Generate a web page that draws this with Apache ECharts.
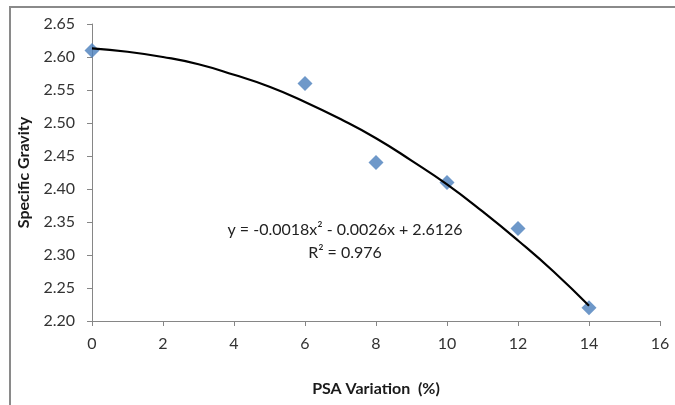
<!DOCTYPE html>
<html>
<head>
<meta charset="utf-8">
<script src="https://cdn.jsdelivr.net/npm/echarts@6/dist/echarts.min.js"></script>
<style>
  html, body { margin: 0; padding: 0; background: #fff; }
  #chart { width: 675px; height: 405px; }
</style>
</head>
<body>
<div id="chart"></div>
<script>
// measured points
const psaVariation = [0, 6, 8, 10, 12, 14]
const specificGravity = [2.61, 2.56, 2.44, 2.41, 2.34, 2.22]

// polynomial trendline
const trendX = [0, 1, 2, 3, 4, 5, 6, 7, 8, 9, 10, 11, 12, 13, 14]
const trendY = [2.613, 2.608, 2.600, 2.589, 2.573, 2.555, 2.532, 2.506, 2.477,
                2.443, 2.407, 2.366, 2.322, 2.275, 2.223]

const yTicks = { min: 2.2, max: 2.65, step: 0.05 }
const xTicks = { min: 0, max: 16, step: 2 }

const eqLine = 'y = -0.0018x² - 0.0026x + 2.6126'
const r2Line = 'R² = 0.976'

const chart = echarts.init(document.getElementById('chart'))
const font = 'Lato, "Open Sans", sans-serif'
const axisGray = '#868686'

chart.setOption({
  animation: false,
  textStyle: { fontFamily: font },
  grid: { left: 92, right: 15, top: 24, bottom: 84 },
  xAxis: {
    type: 'value',
    min: xTicks.min,
    max: xTicks.max,
    interval: xTicks.step,
    name: 'PSA Variation  (%)',
    nameLocation: 'middle',
    nameGap: 60,
    nameTextStyle: { fontFamily: font, fontSize: 16, fontWeight: 'bold', color: '#1a1a1a' },
    axisLine: { onZero: false, lineStyle: { color: axisGray, width: 1 } },
    axisTick: { show: true, length: 5, inside: false, lineStyle: { color: axisGray } },
    axisLabel: { margin: 15, fontSize: 16, color: '#333', fontFamily: font },
    splitLine: { show: false }
  },
  yAxis: {
    type: 'value',
    min: yTicks.min,
    max: yTicks.max,
    interval: yTicks.step,
    name: 'Specific Gravity',
    nameLocation: 'middle',
    nameGap: 60,
    nameTextStyle: { fontFamily: font, fontSize: 16, fontWeight: 'bold', color: '#1a1a1a' },
    axisLine: { show: true, lineStyle: { color: axisGray, width: 1 } },
    axisTick: { show: true, length: 5, inside: false, lineStyle: { color: axisGray } },
    axisLabel: {
      margin: 17, fontSize: 16, color: '#333', fontFamily: font,
      formatter: v => v.toFixed(2)
    },
    splitLine: { show: false }
  },
  series: [
    {
      type: 'line',
      data: trendX.map((x, i) => [x, trendY[i]]),
      smooth: true,
      symbol: 'none',
      lineStyle: { color: '#000', width: 2.2 },
      z: 2
    },
    {
      type: 'scatter',
      data: psaVariation.map((x, i) => [x, specificGravity[i]]),
      symbol: 'diamond',
      symbolSize: 15,
      itemStyle: { color: '#4a7ebb' },
      z: 1
    }
  ],
  graphic: [
    {
      type: 'rect',
      shape: { x: 10, y: 7, width: 720, height: 440 },
      style: { fill: null, stroke: '#8a8a8a', lineWidth: 2 },
      silent: true
    },
    {
      type: 'text',
      x: 345, y: 230,
      style: { text: eqLine, font: '16px ' + font, fill: '#222', align: 'center', verticalAlign: 'middle' }
    },
    {
      type: 'text',
      x: 345, y: 253,
      style: { text: r2Line, font: '16px ' + font, fill: '#222', align: 'center', verticalAlign: 'middle' }
    }
  ]
})
</script>
</body>
</html>
